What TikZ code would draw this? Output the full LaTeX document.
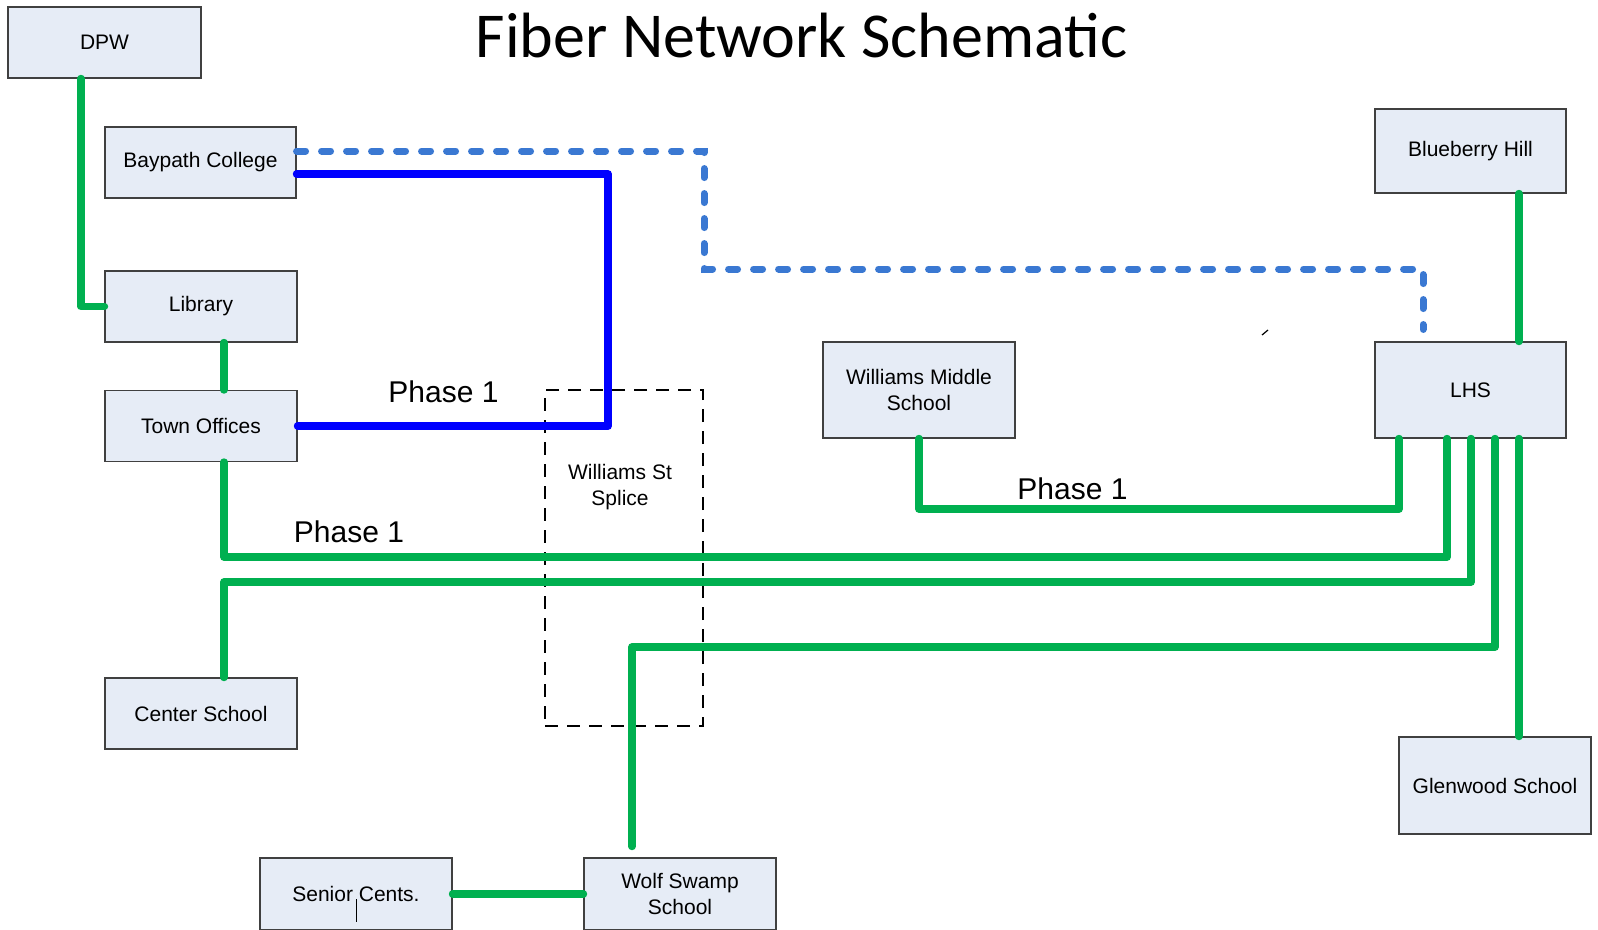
\documentclass[tikz,border=0pt]{standalone}
\usepackage{fontspec}
\setmainfont{Liberation Sans}
\newfontfamily\titlefont{Carlito}
\usetikzlibrary{calc}
\definecolor{boxfill}{RGB}{230,236,246}
\definecolor{boxline}{RGB}{64,64,64}
\definecolor{fibergreen}{RGB}{0,176,80}
\definecolor{phaseblue}{RGB}{0,0,255}
\definecolor{planblue}{RGB}{58,120,210}
\begin{document}
\begin{tikzpicture}[x=1pt,y=-1pt,
  site/.style={draw=boxline, line width=1.1pt, fill=boxfill,
    minimum width=192pt, minimum height=71pt, inner sep=0pt,
    align=center, font=\fontsize{21}{25.5}\selectfont},
  fiber/.style={draw=fibergreen, line width=7.5pt, line cap=round, line join=round},
  phaseline/.style={draw=phaseblue, line width=7.5pt, line cap=round, line join=round},
  planned/.style={draw=planblue, line width=7pt, line cap=round,
    dash pattern=on 9pt off 16pt},
  splicebox/.style={draw=black, line width=1.2pt, dash pattern=on 13pt off 9pt,
    minimum width=158pt, minimum height=336pt, inner sep=0pt},
  phaselbl/.style={font=\fontsize{30}{30}\selectfont, inner sep=0pt, anchor=base},
  caption/.style={align=center, inner sep=0pt, font=\fontsize{21}{25.5}\selectfont}
]
\useasboundingbox (0,0) rectangle (1598,929);
\fill[white] (0,0) rectangle (1598,929);

% title
\node[font=\titlefont\fontsize{64}{64}\selectfont, anchor=base, inner sep=0pt]
  (title) at (801.5,57) {Fiber Network Schematic};

% splice enclosure
\node[splicebox] (splice) at (624,558) {};
\node[caption] (splicelbl) at (620,487) {Williams St\\Splice};

% sites
\node[site, minimum width=193pt] (dpw) at (104.5,42.5) {DPW};
\node[site, minimum width=191pt] (bay) at (200.5,162.5) {Baypath College};
\node[site] (lib) at (201,306.5) {Library};
\node[site] (town) at (201,426) {Town Offices};
\node[site] (center) at (201,713.5) {Center School};
\node[site, minimum height=72pt] (senior) at (356,894) {Senior Cents.};
\node[site, minimum height=72pt] (wolf) at (680,894) {Wolf Swamp\\School};
\node[site, minimum height=96pt] (wms) at (919,390) {Williams Middle\\School};
\node[site, minimum height=96pt, minimum width=191pt] (lhs) at (1470.5,390) {LHS};
\node[site, minimum height=84pt, minimum width=191pt] (bbh) at (1470.5,151) {Blueberry Hill};
\node[site, minimum height=97pt] (glen) at (1495,785.5) {Glenwood School};

% attachment points and bus levels
\coordinate (dpwA) at ([xshift=-23.5pt]dpw.south);
\coordinate (townA) at ([xshift=23pt]town.south);
\coordinate (cenA) at ([xshift=23pt]center.north);
\coordinate (wolfA) at ([xshift=-48pt,yshift=11pt]wolf.north);
\coordinate (lhsA) at ([xshift=-71.5pt]lhs.south);
\coordinate (lhsB) at ([xshift=-23.5pt]lhs.south);
\coordinate (lhsC) at ([xshift=0.5pt]lhs.south);
\coordinate (lhsD) at ([xshift=24.5pt]lhs.south);
\coordinate (lhsE) at ([xshift=48.5pt]lhs.south);
\coordinate (busWms) at (0,509);
\coordinate (busTown) at (0,557);
\coordinate (busCenter) at (0,582);
\coordinate (busWolf) at (0,647);
\coordinate (bayA) at ([yshift=-11.5pt]bay.east);
\coordinate (bayB) at ([yshift=11.5pt]bay.east);
\coordinate (bendX) at (608,0);
\coordinate (planX) at (704,0);
\coordinate (planY) at (0,269);
\coordinate (lhsTop) at ([xshift=-47.5pt,yshift=12pt]lhs.north);

% green fiber runs
\draw[fiber] (dpwA) |- (lib.west);
\draw[fiber] ([xshift=23pt]lib.south) -- ([xshift=23pt]town.north);
\draw[fiber] (townA) -- (townA |- busTown) -| (lhsB);
\draw[fiber] (cenA) -- (cenA |- busCenter) -| (lhsC);
\draw[fiber] (wolfA) -- (wolfA |- busWolf) -| (lhsD);
\draw[fiber] (wms.south) -- (wms.south |- busWms) -| (lhsA);
\draw[fiber] (lhsE) -- (lhsE |- glen.north);
\draw[fiber] ([xshift=48.5pt]bbh.south) -- ([xshift=48.5pt]lhs.north);
\draw[fiber] (senior.east) -- (wolf.west);

% blue phase run and planned route
\draw[phaseline] (bayA) -| (bendX |- town.east) -- (town.east);
\draw[planned] (bayB) -| (planX |- planY) -| (lhsTop);

% phase labels
\node[phaselbl] (ph1) at (443.5,402) {Phase 1};
\node[phaselbl] (ph2) at (1072.5,499) {Phase 1};
\node[phaselbl] (ph3) at (349,542) {Phase 1};

% stray pen marks
\draw[line width=1.2pt] (1262,335) -- (1268,330);
\draw[line width=1pt] (356,899) -- (356,922);
\end{tikzpicture}
\end{document}
